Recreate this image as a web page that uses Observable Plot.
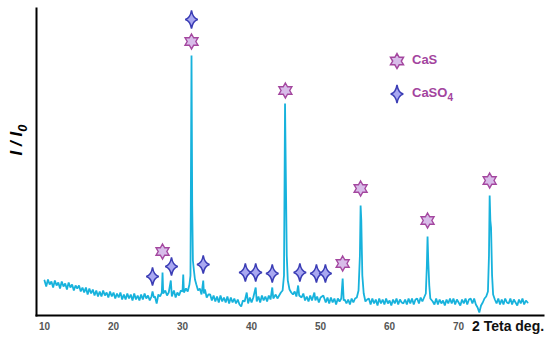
<!DOCTYPE html>
<html>
<head>
<meta charset="utf-8">
<script src="https://cdn.jsdelivr.net/npm/d3@7"></script>
<script src="https://cdn.jsdelivr.net/npm/@observablehq/plot@0.6"></script>
<style>
  html, body { margin: 0; padding: 0; background: #fff; }
  #wrap { position: relative; width: 550px; height: 338px; font-family: "Liberation Sans", Arial, sans-serif; }
  #wrap svg.plot { position: absolute; left: 0; top: 0; }
  .xlabel { position: absolute; left: 472px; top: 318px; font-size: 14px; font-weight: bold; color: #111; white-space: nowrap; }
  .leg { position: absolute; font-size: 13px; font-weight: bold; color: #a3449e; white-space: nowrap; }
  .leg svg { position: absolute; }
</style>
</head>
<body>
<div id="wrap"></div>
<script>
// ---- data (intensity in arbitrary units) ----
const twoTheta = [
  10,10.25,10.5,10.75,11,11.25,11.5,11.75,12,12.25,12.5,12.75,13,13.25,13.5,13.75,14,14.25,14.5,14.75,
  15,15.25,15.5,15.75,16,16.25,16.5,16.75,17,17.25,17.5,17.75,18,18.25,18.5,18.75,19,19.25,19.5,19.75,
  20,20.25,20.5,20.75,21,21.25,21.5,21.75,22,22.25,22.5,22.75,23,23.25,23.5,23.75,24,24.25,24.5,24.75,
  25,25.25,25.5,25.65,25.85,26,26.25,26.5,26.75,27,27.1,27.2,27.5,27.75,28,28.3,28.45,28.75,29,29.25,29.5,29.75,
  30,30.1,30.2,30.5,30.75,31,31.15,31.3,31.4,31.5,31.65,31.8,32,32.25,32.5,32.75,33,33.1,33.25,33.5,33.75,
  34,34.25,34.5,34.75,35,35.25,35.5,35.75,36,36.25,36.5,36.75,37,37.25,37.5,37.75,38,38.25,38.5,38.75,
  39,39.3,39.5,39.75,40,40.25,40.6,40.75,41,41.25,41.5,41.75,42,42.25,42.5,42.75,43,43.15,43.5,43.75,
  44,44.25,44.5,44.7,44.85,44.95,45.1,45.25,45.5,45.75,46,46.25,46.5,46.75,46.9,47.25,47.5,47.75,
  48,48.25,48.5,48.75,49.1,49.25,49.5,49.75,50,50.4,50.75,51,51.25,51.5,51.75,52,52.25,52.5,52.75,
  53,53.2,53.35,53.5,53.75,54,54.25,54.5,54.75,55,55.25,55.5,55.7,55.8,55.9,56.05,56.25,56.5,56.75,
  57,57.25,57.5,57.75,58,58.25,58.5,58.75,59,59.25,59.5,59.75,60,60.25,60.5,60.75,61,61.25,61.5,61.75,
  62,62.25,62.5,62.75,63,63.25,63.5,63.75,64,64.25,64.5,64.75,65,65.25,65.4,65.5,65.6,65.75,65.9,
  66.25,66.5,66.75,67,67.25,67.5,67.75,68,68.25,68.5,68.75,69,69.25,69.5,69.75,70,70.25,70.5,70.75,
  71,71.25,71.5,71.75,72,72.25,72.5,72.75,73,73.25,73.5,73.75,74,74.25,74.4,74.5,74.6,74.7,74.85,
  75,75.25,75.5,75.75,76,76.25,76.5,76.75,77,77.25,77.5,77.75,78,78.25,78.5,78.75,79,79.25,79.5,79.75,80
];
const intensity = [
  35,29,36,31,34,28,35,30,33,27,34,29,32,26,33,28,31,25,30,27,
  30,24,28,23,28,21,27,22,26,20,25,19,24,19,25,20,23,18,24,19,
  23,17,22,18,23,16,21,16,22,17,21,15,22,16,20,15,21,16,22,17,
  20,15,19,24,18,19,12,21,19,23,43,22,25,20,23,35,19,25,18,23,20,25,
  24,41,23,27,24,31,40,260,110,55,45,36,31,25,27,21,35,22,26,18,21,
  21,15,20,14,19,13,20,14,18,13,19,12,18,13,17,12,16,11,9,15,
  14,23,12,18,13,18,28,14,19,13,20,15,19,14,20,16,28,17,21,17,
  20,23,25,40,212,150,60,35,26,23,21,24,19,30,20,18,22,15,
  19,14,20,15,23,15,19,13,18,20,13,18,12,18,13,17,11,17,14,
  17,37,15,16,12,16,11,17,13,17,18,25,60,110,95,40,22,14,16,
  17,11,17,12,16,10,17,12,16,11,17,12,15,10,16,12,17,11,16,13,
  12,16,11,17,12,17,11,16,17,12,18,14,18,22,50,79,55,30,17,
  14,11,17,11,16,12,15,10,16,12,17,12,17,11,16,13,10,16,12,
  17,11,16,17,12,17,11,8,3,10,13,17,19,24,60,120,95,88,40,
  21,16,12,17,11,16,11,17,13,12,17,11,16,13,10,16,12,17,11,15,13
];
const xTicks = [10, 20, 30, 40, 50, 60, 70];

// phase markers (position in 2θ, height of the marker in the same units)
const casPos = [27.1, 31.3, 44.9, 53.2, 55.8, 65.5, 74.5];
const casLevel = [64, 274, 225, 52, 127, 95, 135];
const caso4Pos = [25.65, 28.4, 31.3, 33.0, 39.1, 40.6, 43.0, 47.0, 49.4, 50.7];
const caso4Level = [39, 49, 296, 51, 43, 43, 42, 43, 42, 42];

const legendLabels = ["CaS", "CaSO", "4"];
const axisTitle = "2 Teta deg.";

// ---- custom symbols ----
const hexagram = {
  draw(ctx, size) {
    const R = Math.sqrt(size / Math.PI), r = R / Math.sqrt(3);
    for (let i = 0; i < 12; i++) {
      const a = -Math.PI / 2 + i * Math.PI / 6, rr = i % 2 ? r : R;
      const px = rr * Math.cos(a), py = rr * Math.sin(a);
      i ? ctx.lineTo(px, py) : ctx.moveTo(px, py);
    }
    ctx.closePath();
  }
};
const sparkle = {
  draw(ctx, size) {
    const R = Math.sqrt(size / Math.PI), h = R * 1.45, w = R * 1.0, c = R * 0.2;
    ctx.moveTo(0, -h);
    ctx.quadraticCurveTo(c, -c, w, 0);
    ctx.quadraticCurveTo(c, c, 0, h);
    ctx.quadraticCurveTo(-c, c, -w, 0);
    ctx.quadraticCurveTo(-c, -c, 0, -h);
    ctx.closePath();
  }
};

const pattern = twoTheta.map((x, i) => ({x, y: intensity[i]}));
const cas = casPos.map((x, i) => ({x, y: casLevel[i]}));
const caso4 = caso4Pos.map((x, i) => ({x, y: caso4Level[i]}));

const starFill = "#d8bce9", starStroke = "#a4479f";
const sparkFill = "#a9a8f1", sparkStroke = "#3b3db5";

const chart = Plot.plot({
  width: 550,
  height: 338,
  marginTop: 8,
  marginBottom: 23,
  marginLeft: 36,
  marginRight: 7,
  style: {fontFamily: "Liberation Sans, Arial, sans-serif", background: "transparent"},
  x: {domain: [8.84, 82.3]},
  y: {domain: [0, 307], axis: null},
  marks: [
    Plot.line(pattern, {x: "x", y: "y", stroke: "#17b2dc", strokeWidth: 1.8, strokeLinejoin: "miter"}),
    Plot.dot(cas, {x: "x", y: "y", symbol: hexagram, r: 7.5, fill: starFill, stroke: starStroke, strokeWidth: 1.4}),
    Plot.dot(caso4, {x: "x", y: "y", symbol: sparkle, r: 6.3, fill: sparkFill, stroke: sparkStroke, strokeWidth: 1.5}),
    Plot.axisX({ticks: xTicks, tickSize: 0, tickPadding: 7, label: null, fill: "#555", fontWeight: "bold", fontSize: 10}),
    Plot.frame({anchor: "left", stroke: "#000", strokeWidth: 2}),
    Plot.frame({anchor: "bottom", stroke: "#000", strokeWidth: 2})
  ]
});
chart.classList.add("plot");
const wrap = document.getElementById("wrap");
wrap.appendChild(chart);

// y-axis title  I / I0
const svg = d3.select(chart);
const yt = svg.append("text")
  .attr("transform", "translate(22,140) rotate(-90)")
  .attr("text-anchor", "middle")
  .attr("font-family", "Liberation Sans, Arial, sans-serif")
  .attr("font-weight", "bold")
  .attr("font-style", "italic")
  .attr("font-size", 17)
  .attr("fill", "#000");
yt.append("tspan").text("I / I");
yt.append("tspan").attr("dy", "0.35em").attr("font-size", 13).text("0");

// x-axis title
const xl = document.createElement("div");
xl.className = "xlabel";
xl.textContent = axisTitle;
wrap.appendChild(xl);

// legend
function symbolPath(sym, r) { const p = d3.path(); sym.draw(p, Math.PI * r * r); return p.toString(); }
function legendItem(top, sym, r, fill, stroke, html) {
  const d = document.createElement("div");
  d.className = "leg";
  d.style.left = "387px"; d.style.top = (top - 10) + "px";
  d.innerHTML = `<svg width="20" height="22" style="left:0;top:0" viewBox="-10 -11 20 22"><path d="${symbolPath(sym, r)}" fill="${fill}" stroke="${stroke}" stroke-width="1.5"/></svg><span style="position:absolute;left:25px;top:2px">${html}</span>`;
  wrap.appendChild(d);
}
legendItem(60, hexagram, 7.5, starFill, starStroke, legendLabels[0]);
legendItem(93, sparkle, 6.3, sparkFill, sparkStroke, `${legendLabels[1]}<sub style="font-size:10px">${legendLabels[2]}</sub>`);
</script>
</body>
</html>
